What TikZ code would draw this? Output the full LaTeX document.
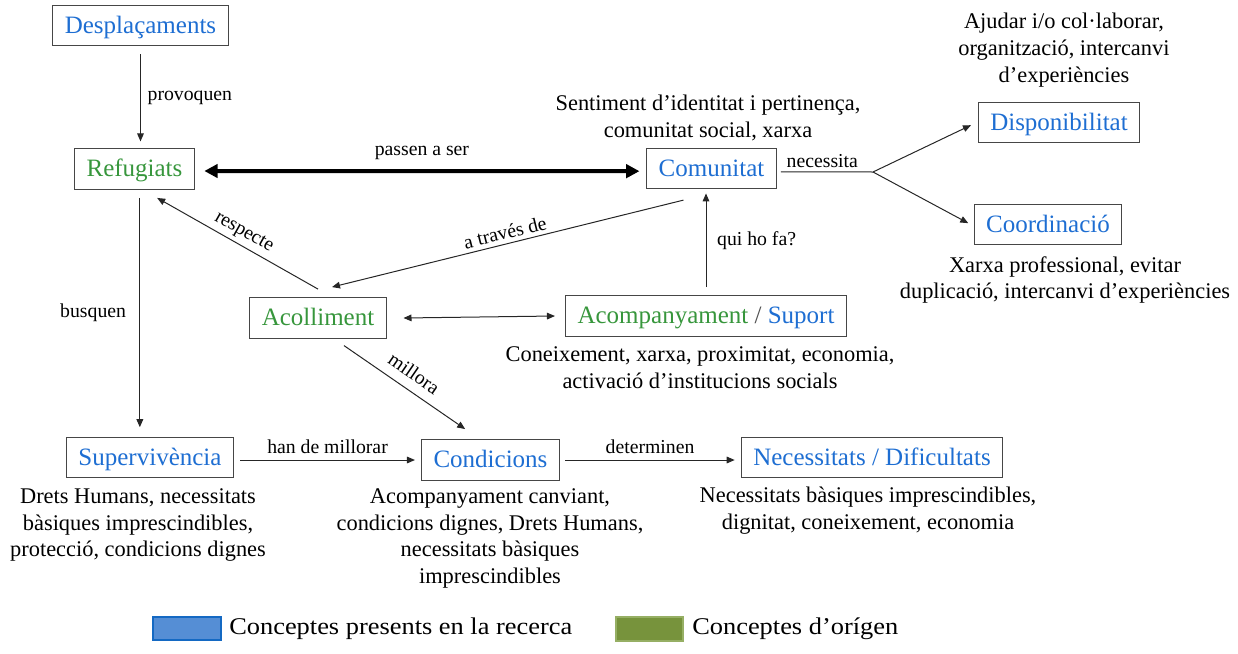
\documentclass[tikz,border=0pt]{standalone}
\usepackage{fontspec}
\setmainfont{Liberation Serif}
\usetikzlibrary{arrows.meta,calc}
\definecolor{cblue}{RGB}{30,110,210}
\definecolor{cgreen}{RGB}{55,150,60}
\definecolor{lblue}{RGB}{85,142,213}
\definecolor{lblueb}{RGB}{20,105,195}
\definecolor{lgreen}{RGB}{119,147,60}
\definecolor{lgreenb}{RGB}{150,175,100}
\definecolor{boxline}{RGB}{70,70,70}
\definecolor{slashc}{RGB}{80,80,80}
\begin{document}
\begin{tikzpicture}[x=0.75pt,y=-0.75pt,
  concept/.style={draw=boxline,line width=0.9pt,inner xsep=9pt,inner ysep=0pt,
    minimum height=30.5pt,text height=15.5pt,text depth=4pt,
    font=\fontsize{18.75}{22}\selectfont},
  bluec/.style={concept,text=cblue},
  greenc/.style={concept,text=cgreen},
  desc/.style={inner sep=0pt,anchor=north,align=center,font=\fontsize{16.8}{20.2}\selectfont},
  lab/.style={inner sep=2pt,font=\fontsize{14.8}{17}\selectfont},
  arr/.style={draw=black!85,line width=0.75pt,-{Triangle[length=6pt,width=5pt]}},
  biarr/.style={draw=black!85,line width=0.75pt,{Triangle[length=6pt,width=5pt]}-{Triangle[length=6pt,width=5pt]}},
  thickarr/.style={draw=black,line width=3pt,{Triangle[length=10pt,width=10pt]}-{Triangle[length=10pt,width=10pt]}},
  plain/.style={draw=black!85,line width=0.75pt},
  legtext/.style={inner sep=0pt,anchor=west,font=\fontsize{18}{21}\selectfont}
]
\useasboundingbox (0,0) rectangle (1238,653);

% concept boxes
\node[bluec]  (desp)   at (140.5,25.5) {Desplaçaments};
\node[greenc] (ref)    at (134.5,169)  {Refugiats};
\node[bluec]  (com)    at (711.5,168.5){Comunitat};
\node[bluec]  (disp)   at (1059,122.5) {Disponibilitat};
\node[bluec]  (coord)  at (1048,224.5) {Coordinació};
\node[greenc] (acol)   at (318,318)    {Acolliment};
\node[concept](acomp)  at (706,316)    {{\color{cgreen}Acompanyament} {\color{slashc}/} {\color{cblue}Suport}};
\node[bluec]  (superv) at (150,457.5)  {Supervivència};
\node[bluec]  (cond)   at (490.5,460)  {Condicions};
\node[bluec]  (nec)    at (872,457.5)  {Necessitats / Dificultats};

% descriptions
\node[desc] (dcom)   at (708,95)   {Sentiment d’identitat i pertinença,\\comunitat social, xarxa};
\node[desc] (ddisp)  at (1064,13)  {Ajudar i/o col·laborar,\\organització, intercanvi\\d’experiències};
\node[desc] (dcoord) at (1065,256) {Xarxa professional, evitar\\duplicació, intercanvi d’experiències};
\node[desc] (dacomp) at (700,346)  {Coneixement, xarxa, proximitat, economia,\\activació d’institucions socials};
\node[desc] (dsuperv) at (138,488) {Drets Humans, necessitats\\bàsiques imprescindibles,\\protecció, condicions dignes};
\node[desc] (dcond)  at (490,488)  {Acompanyament canviant,\\condicions dignes, Drets Humans,\\necessitats bàsiques\\imprescindibles};
\node[desc] (dnec)   at (868,487)  {Necessitats bàsiques imprescindibles,\\dignitat, coneixement, economia};

% connectors
\draw[arr] ([yshift=-6pt]desp.south) -- ([yshift=5pt]desp.south |- ref.north)
  node[lab,midway,right=3pt] {provoquen};
\draw[thickarr] ([xshift=7pt,yshift=-1.5pt]ref.east) -- ([xshift=-5pt,yshift=-2pt]com.west)
  node[lab,midway,above=5pt] {passen a ser};
\coordinate (br) at (873,172);
\draw[plain] ([xshift=3pt,yshift=-2.5pt]com.east) -- (br)
  node[lab,pos=0.45,above=1pt] {necessita};
\draw[arr] (br) -- ([xshift=-5pt,yshift=-2pt]disp.west);
\draw[arr] (br) -- ([xshift=-4pt,yshift=1pt]coord.west);
\draw[arr] ([yshift=6pt]acomp.north) -- ([yshift=-3pt]acomp.north |- com.south)
  node[lab,midway,right=6pt] {qui ho fa?};
\draw[arr] ([xshift=-21pt,yshift=-8pt]com.south) -- ([xshift=10.5pt,yshift=7.5pt]acol.north)
  node[lab,midway,sloped,above=1pt] {a través de};
\draw[arr] ([yshift=6pt]acol.north) -- ([xshift=17pt,yshift=-6pt]ref.south)
  node[lab,midway,sloped,above=1pt] {respecte};
\draw[arr] ([xshift=4pt,yshift=-6pt]ref.south) -- ([xshift=4pt,yshift=7pt]ref.south |- superv.north)
  node[lab,midway,left=8pt] {busquen};
\draw[biarr] ([xshift=12.5pt]acol.east) -- ([xshift=-7.5pt]acomp.west);
\draw[arr] ([xshift=19.5pt,yshift=-5pt]acol.south) -- ([xshift=-19pt,yshift=7.5pt]cond.north)
  node[lab,midway,sloped,above=5pt] {millora};
\draw[arr] ([xshift=4.5pt]superv.east |- cond.west) -- ([xshift=-4.5pt]cond.west)
  node[lab,midway,above=2pt] {han de millorar};
\draw[arr] ([xshift=4pt]cond.east) -- ([xshift=-4.5pt]nec.west |- cond.east)
  node[lab,midway,above=2pt] {determinen};

% legend
\filldraw[fill=lblue,draw=lblueb,line width=1pt] (153,617) rectangle (221,640);
\node[legtext] (leg1) at (229,629) {\scalebox{1.1}[1]{Conceptes presents en la recerca}};
\filldraw[fill=lgreen,draw=lgreenb,line width=1pt] (616,617) rectangle (683,641);
\node[legtext] (leg2) at (692,629) {\scalebox{1.1}[1]{Conceptes d’orígen}};
\end{tikzpicture}
\end{document}
